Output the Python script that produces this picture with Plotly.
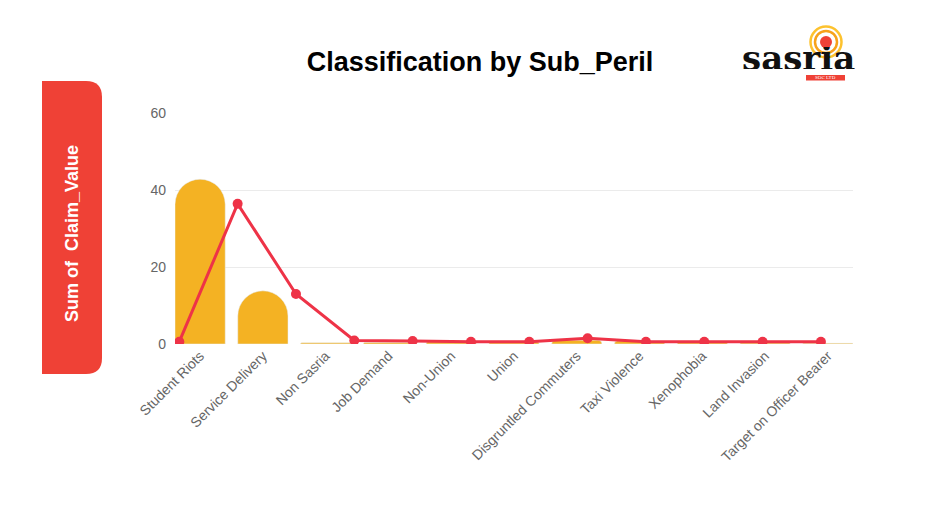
import plotly.graph_objects as go

# categories on the x axis (bars)
categories = ["Student Riots", "Service Delivery", "Non Sasria", "Job Demand", "Non-Union",
              "Union", "Disgruntled Commuters", "Taxi Violence", "Xenophobia",
              "Land Invasion", "Target on Officer Bearer"]
bar_values = [42.8, 13.8, 0.3, 0.4, 0.6, 0.5, 1.0, 0.8, 0.5, 0.3, 0.2]

# line series has its own point spacing (12 points)
line_values = [0.6, 36.4, 13.0, 0.9, 0.8, 0.6, 0.6, 1.5, 0.6, 0.6, 0.6, 0.6]
line_points = list(range(len(line_values)))

y_ticks = [0, 20, 40, 60]

# page has an 8px body margin, so the figure sits at (8, 8)
OFF = 8
W, H = 945 - 2 * OFF, 524 - 2 * OFF
L, R, T, B = 175 - OFF, 92 - OFF, 113 - OFF, 180 - OFF
PW, PH = W - L - R, H - T - B


def px(x):
    # page pixel x -> paper x
    return (x - OFF - L) / PW


def py(y):
    # page pixel y (from top) -> paper y
    return (H - B - (y - OFF)) / PH


fig = go.Figure()
fig.add_trace(go.Bar(
    x=categories,
    y=bar_values,
    marker=dict(color='#F4B223', cornerradius='50%'),
    width=0.8,
    name='bars',
))
fig.add_trace(go.Scatter(
    x=line_points,
    y=line_values,
    xaxis='x2',
    mode='lines+markers',
    line=dict(color='#EE3347', width=3),
    marker=dict(color='#EE3347', size=10),
    name='line',
))

# red label box on the left, right corners rounded
x0, x1, yt, yb, r = 42, 102, 81, 374, 16
path = (f"M {px(x0)},{py(yt)} L {px(x1 - r)},{py(yt)} "
        f"Q {px(x1)},{py(yt)} {px(x1)},{py(yt + r)} "
        f"L {px(x1)},{py(yb - r)} Q {px(x1)},{py(yb)} {px(x1 - r)},{py(yb)} "
        f"L {px(x0)},{py(yb)} Z")

shapes = [
    dict(type='path', xref='paper', yref='paper', path=path,
         fillcolor='#EF4136', line=dict(width=0), layer='above'),
    # logo rings
    dict(type='circle', xref='paper', yref='paper',
         x0=px(826 - 15.5), x1=px(826 + 15.5), y0=py(42 + 15.5), y1=py(42 - 15.5),
         line=dict(color='#FDC22E', width=2.5), fillcolor='rgba(0,0,0,0)', layer='above'),
    dict(type='circle', xref='paper', yref='paper',
         x0=px(826 - 11), x1=px(826 + 11), y0=py(42 + 11), y1=py(42 - 11),
         line=dict(color='#F7A21B', width=2.5), fillcolor='rgba(0,0,0,0)', layer='above'),
    dict(type='circle', xref='paper', yref='paper',
         x0=px(826 - 6), x1=px(826 + 6), y0=py(42 + 6), y1=py(42 - 6),
         line=dict(width=0), fillcolor='#EF4136', layer='above'),
    # SOC LTD box
    dict(type='rect', xref='paper', yref='paper',
         x0=px(806), x1=px(845), y0=py(80.5), y1=py(75),
         line=dict(width=0), fillcolor='#EF4136', layer='above'),
]

annotations = [
    dict(text='<b>Sum of  Claim_Value</b>', textangle=-90, xref='paper', yref='paper',
         x=px(72), y=py(234), xanchor='center', yanchor='middle', showarrow=False,
         font=dict(family='Liberation Sans', size=18, color='white')),
    dict(text='<b>sasria</b>', xref='paper', yref='paper', x=px(798), y=py(58),
         xanchor='center', yanchor='middle', showarrow=False, height=22, borderpad=0,
         font=dict(family='DejaVu Serif', size=34, color='#111111')),
    dict(text='SOC LTD', xref='paper', yref='paper', x=px(825.5), y=py(78),
         xanchor='center', yanchor='middle', showarrow=False, borderpad=0,
         font=dict(family='Liberation Serif', size=5, color='white')),
]

fig.update_layout(
    width=W, height=H,
    margin=dict(l=L, r=R, t=T, b=B, pad=0),
    plot_bgcolor='white',
    paper_bgcolor='white',
    showlegend=False,
    title=dict(text='<b>Classification by Sub_Peril</b>', x=(480 - OFF) / W, xanchor='center',
               y=1 - (62 - OFF) / H, yanchor='middle', xref='container', yref='container',
               font=dict(family='Liberation Sans', size=27, color='black')),
    xaxis=dict(range=[-0.4, 10.4], tickangle=-45, showgrid=False, showline=False,
               ticks='', tickfont=dict(family='Liberation Sans', size=14, color='#666666')),
    xaxis2=dict(overlaying='x', range=[-0.074, 11.55], visible=False),
    yaxis=dict(range=[0, 60], tickvals=y_ticks, showgrid=True, gridcolor='#EBEBEB',
               zeroline=False, showline=False, ticks='', ticklabelstandoff=8,
               tickfont=dict(family='Liberation Sans', size=14, color='#666666')),
    shapes=shapes,
    annotations=annotations,
)

fig.write_html("out.html")
